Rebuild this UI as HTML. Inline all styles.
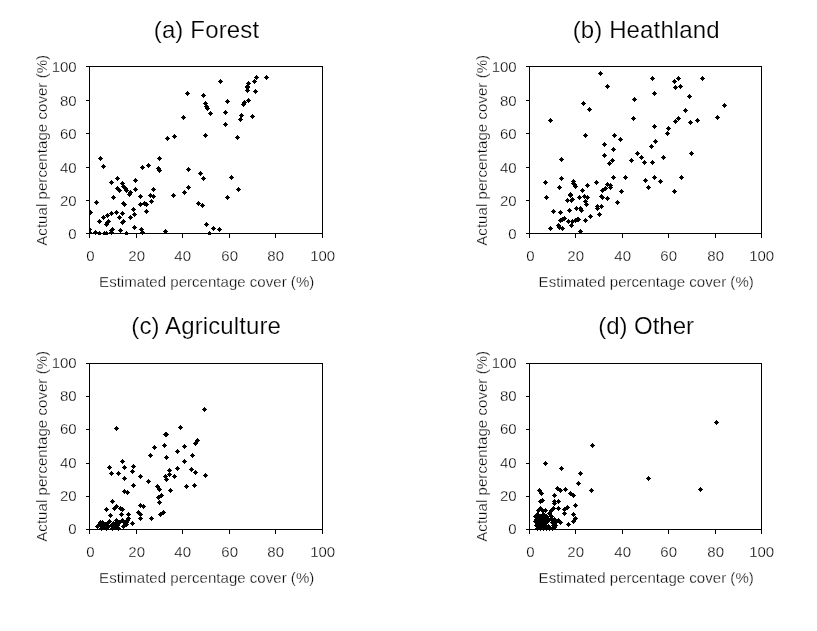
<!DOCTYPE html>
<html><head><meta charset="utf-8"><title>Scatter</title>
<style>
html,body{margin:0;padding:0;background:#fff;}
body{width:817px;height:631px;overflow:hidden;}
svg{display:block;will-change:transform;}
text{font-family:"Liberation Sans",sans-serif;fill:#000;stroke:#fff;stroke-width:0.28px;paint-order:fill stroke;}
text.t{stroke-width:0.2px;}
</style></head><body>
<svg width="817" height="631" viewBox="0 0 817 631"><rect width="817" height="631" fill="#fff"/><g><path d="M89 66h234v1h-234z M89 233h234v1h-234z M89 66h1v168h-1z M322 66h1v168h-1z M86 66h3v1h-3z M89 234h1v4h-1z M86 100h3v1h-3z M136 234h1v4h-1z M86 133h3v1h-3z M182 234h1v4h-1z M86 167h3v1h-3z M229 234h1v4h-1z M86 200h3v1h-3z M275 234h1v4h-1z M86 233h3v1h-3z M322 234h1v4h-1z" fill="#000" shape-rendering="crispEdges"/><clipPath id="c0"><rect x="89" y="66" width="234" height="169"/></clipPath><path clip-path="url(#c0)" d="M185 93h5v1h-5zM186 92h3v3h-3zM187 91h1v5h-1zM201 95h5v1h-5zM202 94h3v3h-3zM203 93h1v5h-1zM203 103h5v1h-5zM204 102h3v3h-3zM205 101h1v5h-1zM181 117h5v1h-5zM182 116h3v3h-3zM183 115h1v5h-1zM172 136h5v1h-5zM173 135h3v3h-3zM174 134h1v5h-1zM165 138h5v1h-5zM166 137h3v3h-3zM167 136h1v5h-1zM203 135h5v1h-5zM204 134h3v3h-3zM205 133h1v5h-1zM218 81h5v1h-5zM219 80h3v3h-3zM220 79h1v5h-1zM254 77h5v1h-5zM255 76h3v3h-3zM256 75h1v5h-1zM264 77h5v1h-5zM265 76h3v3h-3zM266 75h1v5h-1zM252 81h5v1h-5zM253 80h3v3h-3zM254 79h1v5h-1zM246 83h5v1h-5zM247 82h3v3h-3zM248 81h1v5h-1zM245 86h5v1h-5zM246 85h3v3h-3zM247 84h1v5h-1zM245 87h5v1h-5zM246 86h3v3h-3zM247 85h1v5h-1zM245 90h5v1h-5zM246 89h3v3h-3zM247 88h1v5h-1zM253 91h5v1h-5zM254 90h3v3h-3zM255 89h1v5h-1zM225 101h5v1h-5zM226 100h3v3h-3zM227 99h1v5h-1zM246 100h5v1h-5zM247 99h3v3h-3zM248 98h1v5h-1zM242 102h5v1h-5zM243 101h3v3h-3zM244 100h1v5h-1zM241 104h5v1h-5zM242 103h3v3h-3zM243 102h1v5h-1zM204 106h5v1h-5zM205 105h3v3h-3zM206 104h1v5h-1zM205 108h5v1h-5zM206 107h3v3h-3zM207 106h1v5h-1zM208 113h5v1h-5zM209 112h3v3h-3zM210 111h1v5h-1zM223 112h5v1h-5zM224 111h3v3h-3zM225 110h1v5h-1zM239 115h5v1h-5zM240 114h3v3h-3zM241 113h1v5h-1zM238 119h5v1h-5zM239 118h3v3h-3zM240 117h1v5h-1zM250 116h5v1h-5zM251 115h3v3h-3zM252 114h1v5h-1zM223 124h5v1h-5zM224 123h3v3h-3zM225 122h1v5h-1zM235 137h5v1h-5zM236 136h3v3h-3zM237 135h1v5h-1zM98 158h5v1h-5zM99 157h3v3h-3zM100 156h1v5h-1zM101 166h5v1h-5zM102 165h3v3h-3zM103 164h1v5h-1zM157 158h5v1h-5zM158 157h3v3h-3zM159 156h1v5h-1zM140 167h5v1h-5zM141 166h3v3h-3zM142 165h1v5h-1zM146 165h5v1h-5zM147 164h3v3h-3zM148 163h1v5h-1zM156 168h5v1h-5zM157 167h3v3h-3zM158 166h1v5h-1zM157 170h5v1h-5zM158 169h3v3h-3zM159 168h1v5h-1zM186 169h5v1h-5zM187 168h3v3h-3zM188 167h1v5h-1zM198 173h5v1h-5zM199 172h3v3h-3zM200 171h1v5h-1zM201 178h5v1h-5zM202 177h3v3h-3zM203 176h1v5h-1zM115 178h5v1h-5zM116 177h3v3h-3zM117 176h1v5h-1zM109 182h5v1h-5zM110 181h3v3h-3zM111 180h1v5h-1zM133 180h5v1h-5zM134 179h3v3h-3zM135 178h1v5h-1zM120 183h5v1h-5zM121 182h3v3h-3zM122 181h1v5h-1zM121 186h5v1h-5zM122 185h3v3h-3zM123 184h1v5h-1zM115 188h5v1h-5zM116 187h3v3h-3zM117 186h1v5h-1zM117 190h5v1h-5zM118 189h3v3h-3zM119 188h1v5h-1zM124 190h5v1h-5zM125 189h3v3h-3zM126 188h1v5h-1zM133 189h5v1h-5zM134 188h3v3h-3zM135 187h1v5h-1zM151 189h5v1h-5zM152 188h3v3h-3zM153 187h1v5h-1zM128 192h5v1h-5zM129 191h3v3h-3zM130 190h1v5h-1zM127 194h5v1h-5zM128 193h3v3h-3zM129 192h1v5h-1zM186 187h5v1h-5zM187 186h3v3h-3zM188 185h1v5h-1zM182 192h5v1h-5zM183 191h3v3h-3zM184 190h1v5h-1zM171 195h5v1h-5zM172 194h3v3h-3zM173 193h1v5h-1zM148 195h5v1h-5zM149 194h3v3h-3zM150 193h1v5h-1zM151 196h5v1h-5zM152 195h3v3h-3zM153 194h1v5h-1zM138 196h5v1h-5zM139 195h3v3h-3zM140 194h1v5h-1zM111 197h5v1h-5zM112 196h3v3h-3zM113 195h1v5h-1zM149 201h5v1h-5zM150 200h3v3h-3zM151 199h1v5h-1zM94 202h5v1h-5zM95 201h3v3h-3zM96 200h1v5h-1zM121 203h5v1h-5zM122 202h3v3h-3zM123 201h1v5h-1zM122 204h5v1h-5zM123 203h3v3h-3zM124 202h1v5h-1zM138 204h5v1h-5zM139 203h3v3h-3zM140 202h1v5h-1zM142 203h5v1h-5zM143 202h3v3h-3zM144 201h1v5h-1zM144 204h5v1h-5zM145 203h3v3h-3zM146 202h1v5h-1zM196 203h5v1h-5zM197 202h3v3h-3zM198 201h1v5h-1zM200 205h5v1h-5zM201 204h3v3h-3zM202 203h1v5h-1zM131 209h5v1h-5zM132 208h3v3h-3zM133 207h1v5h-1zM144 211h5v1h-5zM145 210h3v3h-3zM146 209h1v5h-1zM88 212h5v1h-5zM89 211h3v3h-3zM90 210h1v5h-1zM114 212h5v1h-5zM115 211h3v3h-3zM116 210h1v5h-1zM109 213h5v1h-5zM110 212h3v3h-3zM111 211h1v5h-1zM120 213h5v1h-5zM121 212h3v3h-3zM122 211h1v5h-1zM132 214h5v1h-5zM133 213h3v3h-3zM134 212h1v5h-1zM105 215h5v1h-5zM106 214h3v3h-3zM107 213h1v5h-1zM101 217h5v1h-5zM102 216h3v3h-3zM103 215h1v5h-1zM117 217h5v1h-5zM118 216h3v3h-3zM119 215h1v5h-1zM128 217h5v1h-5zM129 216h3v3h-3zM130 215h1v5h-1zM97 221h5v1h-5zM98 220h3v3h-3zM99 219h1v5h-1zM106 221h5v1h-5zM107 220h3v3h-3zM108 219h1v5h-1zM121 221h5v1h-5zM122 220h3v3h-3zM123 219h1v5h-1zM120 222h5v1h-5zM121 221h3v3h-3zM122 220h1v5h-1zM104 224h5v1h-5zM105 223h3v3h-3zM106 222h1v5h-1zM105 222h5v1h-5zM106 221h3v3h-3zM107 220h1v5h-1zM132 227h5v1h-5zM133 226h3v3h-3zM134 225h1v5h-1zM204 224h5v1h-5zM205 223h3v3h-3zM206 222h1v5h-1zM110 229h5v1h-5zM111 228h3v3h-3zM112 227h1v5h-1zM118 230h5v1h-5zM119 229h3v3h-3zM120 228h1v5h-1zM139 229h5v1h-5zM140 228h3v3h-3zM141 227h1v5h-1zM140 232h5v1h-5zM141 231h3v3h-3zM142 230h1v5h-1zM163 231h5v1h-5zM164 230h3v3h-3zM165 229h1v5h-1zM87 229h5v1h-5zM88 228h3v3h-3zM89 227h1v5h-1zM87 232h5v1h-5zM88 231h3v3h-3zM89 230h1v5h-1zM93 232h5v1h-5zM94 231h3v3h-3zM95 230h1v5h-1zM97 233h5v1h-5zM98 232h3v3h-3zM99 231h1v5h-1zM102 233h5v1h-5zM103 232h3v3h-3zM104 231h1v5h-1zM104 233h5v1h-5zM105 232h3v3h-3zM106 231h1v5h-1zM109 232h5v1h-5zM110 231h3v3h-3zM111 230h1v5h-1zM109 230h5v1h-5zM110 229h3v3h-3zM111 228h1v5h-1zM124 233h5v1h-5zM125 232h3v3h-3zM126 231h1v5h-1zM123 188h5v1h-5zM124 187h3v3h-3zM125 186h1v5h-1zM229 177h5v1h-5zM230 176h3v3h-3zM231 175h1v5h-1zM236 189h5v1h-5zM237 188h3v3h-3zM238 187h1v5h-1zM225 197h5v1h-5zM226 196h3v3h-3zM227 195h1v5h-1zM211 228h5v1h-5zM212 227h3v3h-3zM213 226h1v5h-1zM217 229h5v1h-5zM218 228h3v3h-3zM219 227h1v5h-1zM207 233h5v1h-5zM208 232h3v3h-3zM209 231h1v5h-1z" fill="#000" shape-rendering="crispEdges"/><text x="76.7" y="71.5" text-anchor="end" font-size="15">100</text><text x="90.3" y="260.5" text-anchor="middle" font-size="15">0</text><text x="76.7" y="105.5" text-anchor="end" font-size="15">80</text><text x="136.7" y="260.5" text-anchor="middle" font-size="15">20</text><text x="76.7" y="138.5" text-anchor="end" font-size="15">60</text><text x="182.7" y="260.5" text-anchor="middle" font-size="15">40</text><text x="76.7" y="172.5" text-anchor="end" font-size="15">40</text><text x="229.7" y="260.5" text-anchor="middle" font-size="15">60</text><text x="76.7" y="205.5" text-anchor="end" font-size="15">20</text><text x="275.7" y="260.5" text-anchor="middle" font-size="15">80</text><text x="76.7" y="238.5" text-anchor="end" font-size="15">0</text><text x="322.7" y="260.5" text-anchor="middle" font-size="15">100</text><text x="206.7" y="286.8" text-anchor="middle" font-size="15" letter-spacing="0.03">Estimated percentage cover (%)</text><text transform="translate(46.6 150.3) rotate(-90)" text-anchor="middle" font-size="15" letter-spacing="0.06">Actual percentage cover (%)</text><text x="206.5" y="37.9" class="t" text-anchor="middle" font-size="24" letter-spacing="0.15">(a) Forest</text></g><g><path d="M529 66h233v1h-233z M529 233h233v1h-233z M529 66h1v168h-1z M761 66h1v168h-1z M526 66h3v1h-3z M529 234h1v4h-1z M526 100h3v1h-3z M575 234h1v4h-1z M526 133h3v1h-3z M622 234h1v4h-1z M526 167h3v1h-3z M668 234h1v4h-1z M526 200h3v1h-3z M715 234h1v4h-1z M526 233h3v1h-3z M761 234h1v4h-1z" fill="#000" shape-rendering="crispEdges"/><clipPath id="c1"><rect x="529" y="66" width="233" height="169"/></clipPath><path clip-path="url(#c1)" d="M598 73h5v1h-5zM599 72h3v3h-3zM600 71h1v5h-1zM605 86h5v1h-5zM606 85h3v3h-3zM607 84h1v5h-1zM632 99h5v1h-5zM633 98h3v3h-3zM634 97h1v5h-1zM581 103h5v1h-5zM582 102h3v3h-3zM583 101h1v5h-1zM587 109h5v1h-5zM588 108h3v3h-3zM589 107h1v5h-1zM548 120h5v1h-5zM549 119h3v3h-3zM550 118h1v5h-1zM631 118h5v1h-5zM632 117h3v3h-3zM633 116h1v5h-1zM583 135h5v1h-5zM584 134h3v3h-3zM585 133h1v5h-1zM612 135h5v1h-5zM613 134h3v3h-3zM614 133h1v5h-1zM618 139h5v1h-5zM619 138h3v3h-3zM620 137h1v5h-1zM602 144h5v1h-5zM603 143h3v3h-3zM604 142h1v5h-1zM611 149h5v1h-5zM612 148h3v3h-3zM613 147h1v5h-1zM650 78h5v1h-5zM651 77h3v3h-3zM652 76h1v5h-1zM676 78h5v1h-5zM677 77h3v3h-3zM678 76h1v5h-1zM672 81h5v1h-5zM673 80h3v3h-3zM674 79h1v5h-1zM700 78h5v1h-5zM701 77h3v3h-3zM702 76h1v5h-1zM673 87h5v1h-5zM674 86h3v3h-3zM675 85h1v5h-1zM678 86h5v1h-5zM679 85h3v3h-3zM680 84h1v5h-1zM652 93h5v1h-5zM653 92h3v3h-3zM654 91h1v5h-1zM687 96h5v1h-5zM688 95h3v3h-3zM689 94h1v5h-1zM722 105h5v1h-5zM723 104h3v3h-3zM724 103h1v5h-1zM683 110h5v1h-5zM684 109h3v3h-3zM685 108h1v5h-1zM715 117h5v1h-5zM716 116h3v3h-3zM717 115h1v5h-1zM676 118h5v1h-5zM677 117h3v3h-3zM678 116h1v5h-1zM673 121h5v1h-5zM674 120h3v3h-3zM675 119h1v5h-1zM688 122h5v1h-5zM689 121h3v3h-3zM690 120h1v5h-1zM695 120h5v1h-5zM696 119h3v3h-3zM697 118h1v5h-1zM652 126h5v1h-5zM653 125h3v3h-3zM654 124h1v5h-1zM666 128h5v1h-5zM667 127h3v3h-3zM668 126h1v5h-1zM665 133h5v1h-5zM666 132h3v3h-3zM667 131h1v5h-1zM653 141h5v1h-5zM654 140h3v3h-3zM655 139h1v5h-1zM649 146h5v1h-5zM650 145h3v3h-3zM651 144h1v5h-1zM602 155h5v1h-5zM603 154h3v3h-3zM604 153h1v5h-1zM559 159h5v1h-5zM560 158h3v3h-3zM561 157h1v5h-1zM610 160h5v1h-5zM611 159h3v3h-3zM612 158h1v5h-1zM607 163h5v1h-5zM608 162h3v3h-3zM609 161h1v5h-1zM635 153h5v1h-5zM636 152h3v3h-3zM637 151h1v5h-1zM639 157h5v1h-5zM640 156h3v3h-3zM641 155h1v5h-1zM629 160h5v1h-5zM630 159h3v3h-3zM631 158h1v5h-1zM642 162h5v1h-5zM643 161h3v3h-3zM644 160h1v5h-1zM611 177h5v1h-5zM612 176h3v3h-3zM613 175h1v5h-1zM623 177h5v1h-5zM624 176h3v3h-3zM625 175h1v5h-1zM559 178h5v1h-5zM560 177h3v3h-3zM561 176h1v5h-1zM543 182h5v1h-5zM544 181h3v3h-3zM545 180h1v5h-1zM571 181h5v1h-5zM572 180h3v3h-3zM573 179h1v5h-1zM572 184h5v1h-5zM573 183h3v3h-3zM574 182h1v5h-1zM573 186h5v1h-5zM574 185h3v3h-3zM575 184h1v5h-1zM594 182h5v1h-5zM595 181h3v3h-3zM596 180h1v5h-1zM585 185h5v1h-5zM586 184h3v3h-3zM587 183h1v5h-1zM605 184h5v1h-5zM606 183h3v3h-3zM607 182h1v5h-1zM608 185h5v1h-5zM609 184h3v3h-3zM610 183h1v5h-1zM608 187h5v1h-5zM609 186h3v3h-3zM610 185h1v5h-1zM557 187h5v1h-5zM558 186h3v3h-3zM559 185h1v5h-1zM603 188h5v1h-5zM604 187h3v3h-3zM605 186h1v5h-1zM600 190h5v1h-5zM601 189h3v3h-3zM602 188h1v5h-1zM580 190h5v1h-5zM581 189h3v3h-3zM582 188h1v5h-1zM619 191h5v1h-5zM620 190h3v3h-3zM621 189h1v5h-1zM568 194h5v1h-5zM569 193h3v3h-3zM570 192h1v5h-1zM544 197h5v1h-5zM545 196h3v3h-3zM546 195h1v5h-1zM577 197h5v1h-5zM578 196h3v3h-3zM579 195h1v5h-1zM582 196h5v1h-5zM583 195h3v3h-3zM584 194h1v5h-1zM585 197h5v1h-5zM586 196h3v3h-3zM587 195h1v5h-1zM599 196h5v1h-5zM600 195h3v3h-3zM601 194h1v5h-1zM600 197h5v1h-5zM601 196h3v3h-3zM602 195h1v5h-1zM605 198h5v1h-5zM606 197h3v3h-3zM607 196h1v5h-1zM565 200h5v1h-5zM566 199h3v3h-3zM567 198h1v5h-1zM569 200h5v1h-5zM570 199h3v3h-3zM571 198h1v5h-1zM583 201h5v1h-5zM584 200h3v3h-3zM585 199h1v5h-1zM615 202h5v1h-5zM616 201h3v3h-3zM617 200h1v5h-1zM584 204h5v1h-5zM585 203h3v3h-3zM586 202h1v5h-1zM595 206h5v1h-5zM596 205h3v3h-3zM597 204h1v5h-1zM599 206h5v1h-5zM600 205h3v3h-3zM601 204h1v5h-1zM595 208h5v1h-5zM596 207h3v3h-3zM597 206h1v5h-1zM574 208h5v1h-5zM575 207h3v3h-3zM576 206h1v5h-1zM578 208h5v1h-5zM579 207h3v3h-3zM580 206h1v5h-1zM579 210h5v1h-5zM580 209h3v3h-3zM581 208h1v5h-1zM567 210h5v1h-5zM568 209h3v3h-3zM569 208h1v5h-1zM551 211h5v1h-5zM552 210h3v3h-3zM553 209h1v5h-1zM558 212h5v1h-5zM559 211h3v3h-3zM560 210h1v5h-1zM597 214h5v1h-5zM598 213h3v3h-3zM599 212h1v5h-1zM588 216h5v1h-5zM589 215h3v3h-3zM590 214h1v5h-1zM562 218h5v1h-5zM563 217h3v3h-3zM564 216h1v5h-1zM558 220h5v1h-5zM559 219h3v3h-3zM560 218h1v5h-1zM576 219h5v1h-5zM577 218h3v3h-3zM578 217h1v5h-1zM573 220h5v1h-5zM574 219h3v3h-3zM575 218h1v5h-1zM570 221h5v1h-5zM571 220h3v3h-3zM572 219h1v5h-1zM566 221h5v1h-5zM567 220h3v3h-3zM568 219h1v5h-1zM583 220h5v1h-5zM584 219h3v3h-3zM585 218h1v5h-1zM569 225h5v1h-5zM570 224h3v3h-3zM571 223h1v5h-1zM556 225h5v1h-5zM557 224h3v3h-3zM558 223h1v5h-1zM557 227h5v1h-5zM558 226h3v3h-3zM559 225h1v5h-1zM560 228h5v1h-5zM561 227h3v3h-3zM562 226h1v5h-1zM548 228h5v1h-5zM549 227h3v3h-3zM550 226h1v5h-1zM578 231h5v1h-5zM579 230h3v3h-3zM580 229h1v5h-1zM643 180h5v1h-5zM644 179h3v3h-3zM645 178h1v5h-1zM568 195h5v1h-5zM569 194h3v3h-3zM570 193h1v5h-1zM570 199h5v1h-5zM571 198h3v3h-3zM572 197h1v5h-1zM571 183h5v1h-5zM572 182h3v3h-3zM573 181h1v5h-1zM560 219h5v1h-5zM561 218h3v3h-3zM562 217h1v5h-1zM575 219h5v1h-5zM576 218h3v3h-3zM577 217h1v5h-1zM689 153h5v1h-5zM690 152h3v3h-3zM691 151h1v5h-1zM661 157h5v1h-5zM662 156h3v3h-3zM663 155h1v5h-1zM650 162h5v1h-5zM651 161h3v3h-3zM652 160h1v5h-1zM652 177h5v1h-5zM653 176h3v3h-3zM654 175h1v5h-1zM679 177h5v1h-5zM680 176h3v3h-3zM681 175h1v5h-1zM658 181h5v1h-5zM659 180h3v3h-3zM660 179h1v5h-1zM646 187h5v1h-5zM647 186h3v3h-3zM648 185h1v5h-1zM672 191h5v1h-5zM673 190h3v3h-3zM674 189h1v5h-1z" fill="#000" shape-rendering="crispEdges"/><text x="516.7" y="71.5" text-anchor="end" font-size="15">100</text><text x="530.3" y="260.5" text-anchor="middle" font-size="15">0</text><text x="516.7" y="105.5" text-anchor="end" font-size="15">80</text><text x="575.7" y="260.5" text-anchor="middle" font-size="15">20</text><text x="516.7" y="138.5" text-anchor="end" font-size="15">60</text><text x="622.7" y="260.5" text-anchor="middle" font-size="15">40</text><text x="516.7" y="172.5" text-anchor="end" font-size="15">40</text><text x="668.7" y="260.5" text-anchor="middle" font-size="15">60</text><text x="516.7" y="205.5" text-anchor="end" font-size="15">20</text><text x="715.7" y="260.5" text-anchor="middle" font-size="15">80</text><text x="516.7" y="238.5" text-anchor="end" font-size="15">0</text><text x="761.7" y="260.5" text-anchor="middle" font-size="15">100</text><text x="646.2" y="286.8" text-anchor="middle" font-size="15" letter-spacing="0.03">Estimated percentage cover (%)</text><text transform="translate(486.6 150.3) rotate(-90)" text-anchor="middle" font-size="15" letter-spacing="0.06">Actual percentage cover (%)</text><text x="646.2" y="37.9" class="t" text-anchor="middle" font-size="24" letter-spacing="0.13">(b) Heathland</text></g><g><path d="M89 363h234v1h-234z M89 529h234v1h-234z M89 363h1v167h-1z M322 363h1v167h-1z M86 363h3v1h-3z M89 530h1v4h-1z M86 396h3v1h-3z M136 530h1v4h-1z M86 429h3v1h-3z M182 530h1v4h-1z M86 463h3v1h-3z M229 530h1v4h-1z M86 496h3v1h-3z M275 530h1v4h-1z M86 529h3v1h-3z M322 530h1v4h-1z" fill="#000" shape-rendering="crispEdges"/><clipPath id="c2"><rect x="89" y="363" width="234" height="168"/></clipPath><path clip-path="url(#c2)" d="M114 428h5v1h-5zM115 427h3v3h-3zM116 426h1v5h-1zM178 427h5v1h-5zM179 426h3v3h-3zM180 425h1v5h-1zM163 434h5v1h-5zM164 433h3v3h-3zM165 432h1v5h-1zM164 434h5v1h-5zM165 433h3v3h-3zM166 432h1v5h-1zM202 409h5v1h-5zM203 408h3v3h-3zM204 407h1v5h-1zM195 440h5v1h-5zM196 439h3v3h-3zM197 438h1v5h-1zM193 443h5v1h-5zM194 442h3v3h-3zM195 441h1v5h-1zM152 447h5v1h-5zM153 446h3v3h-3zM154 445h1v5h-1zM162 445h5v1h-5zM163 444h3v3h-3zM164 443h1v5h-1zM182 446h5v1h-5zM183 445h3v3h-3zM184 444h1v5h-1zM175 451h5v1h-5zM176 450h3v3h-3zM177 449h1v5h-1zM148 455h5v1h-5zM149 454h3v3h-3zM150 453h1v5h-1zM164 457h5v1h-5zM165 456h3v3h-3zM166 455h1v5h-1zM190 455h5v1h-5zM191 454h3v3h-3zM192 453h1v5h-1zM182 461h5v1h-5zM183 460h3v3h-3zM184 459h1v5h-1zM120 461h5v1h-5zM121 460h3v3h-3zM122 459h1v5h-1zM107 467h5v1h-5zM108 466h3v3h-3zM109 465h1v5h-1zM122 467h5v1h-5zM123 466h3v3h-3zM124 465h1v5h-1zM131 466h5v1h-5zM132 465h3v3h-3zM133 464h1v5h-1zM130 471h5v1h-5zM131 470h3v3h-3zM132 469h1v5h-1zM109 473h5v1h-5zM110 472h3v3h-3zM111 471h1v5h-1zM116 473h5v1h-5zM117 472h3v3h-3zM118 471h1v5h-1zM175 468h5v1h-5zM176 467h3v3h-3zM177 466h1v5h-1zM167 470h5v1h-5zM168 469h3v3h-3zM169 468h1v5h-1zM189 469h5v1h-5zM190 468h3v3h-3zM191 467h1v5h-1zM193 472h5v1h-5zM194 471h3v3h-3zM195 470h1v5h-1zM167 474h5v1h-5zM168 473h3v3h-3zM169 472h1v5h-1zM163 476h5v1h-5zM164 475h3v3h-3zM165 474h1v5h-1zM172 476h5v1h-5zM173 475h3v3h-3zM174 474h1v5h-1zM138 476h5v1h-5zM139 475h3v3h-3zM140 474h1v5h-1zM122 478h5v1h-5zM123 477h3v3h-3zM124 476h1v5h-1zM164 479h5v1h-5zM165 478h3v3h-3zM166 477h1v5h-1zM146 481h5v1h-5zM147 480h3v3h-3zM148 479h1v5h-1zM203 475h5v1h-5zM204 474h3v3h-3zM205 473h1v5h-1zM131 485h5v1h-5zM132 484h3v3h-3zM133 483h1v5h-1zM155 486h5v1h-5zM156 485h3v3h-3zM157 484h1v5h-1zM157 489h5v1h-5zM158 488h3v3h-3zM159 487h1v5h-1zM184 486h5v1h-5zM185 485h3v3h-3zM186 484h1v5h-1zM192 485h5v1h-5zM193 484h3v3h-3zM194 483h1v5h-1zM168 490h5v1h-5zM169 489h3v3h-3zM170 488h1v5h-1zM122 491h5v1h-5zM123 490h3v3h-3zM124 489h1v5h-1zM125 492h5v1h-5zM126 491h3v3h-3zM127 490h1v5h-1zM159 495h5v1h-5zM160 494h3v3h-3zM161 493h1v5h-1zM156 497h5v1h-5zM157 496h3v3h-3zM158 495h1v5h-1zM157 502h5v1h-5zM158 501h3v3h-3zM159 500h1v5h-1zM110 501h5v1h-5zM111 500h3v3h-3zM112 499h1v5h-1zM138 505h5v1h-5zM139 504h3v3h-3zM140 503h1v5h-1zM141 506h5v1h-5zM142 505h3v3h-3zM143 504h1v5h-1zM114 506h5v1h-5zM115 505h3v3h-3zM116 504h1v5h-1zM112 508h5v1h-5zM113 507h3v3h-3zM114 506h1v5h-1zM104 509h5v1h-5zM105 508h3v3h-3zM106 507h1v5h-1zM118 508h5v1h-5zM119 507h3v3h-3zM120 506h1v5h-1zM120 509h5v1h-5zM121 508h3v3h-3zM122 507h1v5h-1zM136 512h5v1h-5zM137 511h3v3h-3zM138 510h1v5h-1zM138 514h5v1h-5zM139 513h3v3h-3zM140 512h1v5h-1zM126 514h5v1h-5zM127 513h3v3h-3zM128 512h1v5h-1zM119 514h5v1h-5zM120 513h3v3h-3zM121 512h1v5h-1zM108 515h5v1h-5zM109 514h3v3h-3zM110 513h1v5h-1zM161 512h5v1h-5zM162 511h3v3h-3zM163 510h1v5h-1zM158 514h5v1h-5zM159 513h3v3h-3zM160 512h1v5h-1zM138 518h5v1h-5zM139 517h3v3h-3zM140 516h1v5h-1zM149 518h5v1h-5zM150 517h3v3h-3zM151 516h1v5h-1zM130 523h5v1h-5zM131 522h3v3h-3zM132 521h1v5h-1zM95 526h5v1h-5zM96 525h3v3h-3zM97 524h1v5h-1zM98 522h5v1h-5zM99 521h3v3h-3zM100 520h1v5h-1zM100 522h5v1h-5zM101 521h3v3h-3zM102 520h1v5h-1zM98 525h5v1h-5zM99 524h3v3h-3zM100 523h1v5h-1zM101 525h5v1h-5zM102 524h3v3h-3zM103 523h1v5h-1zM99 528h5v1h-5zM100 527h3v3h-3zM101 526h1v5h-1zM104 528h5v1h-5zM105 527h3v3h-3zM106 526h1v5h-1zM110 528h5v1h-5zM111 527h3v3h-3zM112 526h1v5h-1zM116 528h5v1h-5zM117 527h3v3h-3zM118 526h1v5h-1zM103 524h5v1h-5zM104 523h3v3h-3zM105 522h1v5h-1zM106 526h5v1h-5zM107 525h3v3h-3zM108 524h1v5h-1zM107 521h5v1h-5zM108 520h3v3h-3zM109 519h1v5h-1zM105 523h5v1h-5zM106 522h3v3h-3zM107 521h1v5h-1zM109 525h5v1h-5zM110 524h3v3h-3zM111 523h1v5h-1zM111 523h5v1h-5zM112 522h3v3h-3zM113 521h1v5h-1zM114 520h5v1h-5zM115 519h3v3h-3zM116 518h1v5h-1zM113 523h5v1h-5zM114 522h3v3h-3zM115 521h1v5h-1zM115 525h5v1h-5zM116 524h3v3h-3zM117 523h1v5h-1zM117 522h5v1h-5zM118 521h3v3h-3zM119 520h1v5h-1zM120 520h5v1h-5zM121 519h3v3h-3zM122 518h1v5h-1zM122 522h5v1h-5zM123 521h3v3h-3zM124 520h1v5h-1zM121 526h5v1h-5zM122 525h3v3h-3zM123 524h1v5h-1zM124 524h5v1h-5zM125 523h3v3h-3zM126 522h1v5h-1zM125 520h5v1h-5zM126 519h3v3h-3zM127 518h1v5h-1zM126 518h5v1h-5zM127 517h3v3h-3zM128 516h1v5h-1zM124 522h5v1h-5zM125 521h3v3h-3zM126 520h1v5h-1zM112 527h5v1h-5zM113 526h3v3h-3zM114 525h1v5h-1zM102 527h5v1h-5zM103 526h3v3h-3zM104 525h1v5h-1zM97 524h5v1h-5zM98 523h3v3h-3zM99 522h1v5h-1z" fill="#000" shape-rendering="crispEdges"/><text x="76.7" y="368.0" text-anchor="end" font-size="15">100</text><text x="90.3" y="556.5" text-anchor="middle" font-size="15">0</text><text x="76.7" y="401.0" text-anchor="end" font-size="15">80</text><text x="136.7" y="556.5" text-anchor="middle" font-size="15">20</text><text x="76.7" y="434.0" text-anchor="end" font-size="15">60</text><text x="182.7" y="556.5" text-anchor="middle" font-size="15">40</text><text x="76.7" y="468.0" text-anchor="end" font-size="15">40</text><text x="229.7" y="556.5" text-anchor="middle" font-size="15">60</text><text x="76.7" y="501.0" text-anchor="end" font-size="15">20</text><text x="275.7" y="556.5" text-anchor="middle" font-size="15">80</text><text x="76.7" y="534.0" text-anchor="end" font-size="15">0</text><text x="322.7" y="556.5" text-anchor="middle" font-size="15">100</text><text x="206.7" y="582.8" text-anchor="middle" font-size="15" letter-spacing="0.03">Estimated percentage cover (%)</text><text transform="translate(46.6 446.3) rotate(-90)" text-anchor="middle" font-size="15" letter-spacing="0.06">Actual percentage cover (%)</text><text x="206.2" y="333.6" class="t" text-anchor="middle" font-size="24" letter-spacing="0.11">(c) Agriculture</text></g><g><path d="M529 363h233v1h-233z M529 529h233v1h-233z M529 363h1v167h-1z M761 363h1v167h-1z M526 363h3v1h-3z M529 530h1v4h-1z M526 396h3v1h-3z M575 530h1v4h-1z M526 429h3v1h-3z M622 530h1v4h-1z M526 463h3v1h-3z M668 530h1v4h-1z M526 496h3v1h-3z M715 530h1v4h-1z M526 529h3v1h-3z M761 530h1v4h-1z" fill="#000" shape-rendering="crispEdges"/><clipPath id="c3"><rect x="529" y="363" width="233" height="168"/></clipPath><path clip-path="url(#c3)" d="M590 445h5v1h-5zM591 444h3v3h-3zM592 443h1v5h-1zM714 422h5v1h-5zM715 421h3v3h-3zM716 420h1v5h-1zM646 478h5v1h-5zM647 477h3v3h-3zM648 476h1v5h-1zM698 489h5v1h-5zM699 488h3v3h-3zM700 487h1v5h-1zM543 463h5v1h-5zM544 462h3v3h-3zM545 461h1v5h-1zM559 468h5v1h-5zM560 467h3v3h-3zM561 466h1v5h-1zM578 473h5v1h-5zM579 472h3v3h-3zM580 471h1v5h-1zM576 483h5v1h-5zM577 482h3v3h-3zM578 481h1v5h-1zM589 490h5v1h-5zM590 489h3v3h-3zM591 488h1v5h-1zM555 488h5v1h-5zM556 487h3v3h-3zM557 486h1v5h-1zM558 490h5v1h-5zM559 489h3v3h-3zM560 488h1v5h-1zM563 489h5v1h-5zM564 488h3v3h-3zM565 487h1v5h-1zM537 490h5v1h-5zM538 489h3v3h-3zM539 488h1v5h-1zM539 493h5v1h-5zM540 492h3v3h-3zM541 491h1v5h-1zM568 493h5v1h-5zM569 492h3v3h-3zM570 491h1v5h-1zM571 495h5v1h-5zM572 494h3v3h-3zM573 493h1v5h-1zM552 495h5v1h-5zM553 494h3v3h-3zM554 493h1v5h-1zM540 500h5v1h-5zM541 499h3v3h-3zM542 498h1v5h-1zM538 501h5v1h-5zM539 500h3v3h-3zM540 499h1v5h-1zM552 501h5v1h-5zM553 500h3v3h-3zM554 499h1v5h-1zM556 501h5v1h-5zM557 500h3v3h-3zM558 499h1v5h-1zM552 503h5v1h-5zM553 502h3v3h-3zM554 501h1v5h-1zM573 505h5v1h-5zM574 504h3v3h-3zM575 503h1v5h-1zM565 507h5v1h-5zM566 506h3v3h-3zM567 505h1v5h-1zM562 509h5v1h-5zM563 508h3v3h-3zM564 507h1v5h-1zM556 508h5v1h-5zM557 507h3v3h-3zM558 506h1v5h-1zM551 508h5v1h-5zM552 507h3v3h-3zM553 506h1v5h-1zM549 510h5v1h-5zM550 509h3v3h-3zM551 508h1v5h-1zM538 508h5v1h-5zM539 507h3v3h-3zM540 506h1v5h-1zM536 510h5v1h-5zM537 509h3v3h-3zM538 508h1v5h-1zM540 510h5v1h-5zM541 509h3v3h-3zM542 508h1v5h-1zM543 510h5v1h-5zM544 509h3v3h-3zM545 508h1v5h-1zM562 513h5v1h-5zM563 512h3v3h-3zM564 511h1v5h-1zM571 514h5v1h-5zM572 513h3v3h-3zM573 512h1v5h-1zM573 518h5v1h-5zM574 517h3v3h-3zM575 516h1v5h-1zM571 521h5v1h-5zM572 520h3v3h-3zM573 519h1v5h-1zM556 520h5v1h-5zM557 519h3v3h-3zM558 518h1v5h-1zM558 522h5v1h-5zM559 521h3v3h-3zM560 520h1v5h-1zM566 524h5v1h-5zM567 523h3v3h-3zM568 522h1v5h-1zM533 516h5v1h-5zM534 515h3v3h-3zM535 514h1v5h-1zM535 514h5v1h-5zM536 513h3v3h-3zM537 512h1v5h-1zM538 516h5v1h-5zM539 515h3v3h-3zM540 514h1v5h-1zM541 514h5v1h-5zM542 513h3v3h-3zM543 512h1v5h-1zM544 516h5v1h-5zM545 515h3v3h-3zM546 514h1v5h-1zM547 513h5v1h-5zM548 512h3v3h-3zM549 511h1v5h-1zM549 516h5v1h-5zM550 515h3v3h-3zM551 514h1v5h-1zM534 519h5v1h-5zM535 518h3v3h-3zM536 517h1v5h-1zM537 519h5v1h-5zM538 518h3v3h-3zM539 517h1v5h-1zM540 519h5v1h-5zM541 518h3v3h-3zM542 517h1v5h-1zM543 519h5v1h-5zM544 518h3v3h-3zM545 517h1v5h-1zM546 519h5v1h-5zM547 518h3v3h-3zM548 517h1v5h-1zM549 519h5v1h-5zM550 518h3v3h-3zM551 517h1v5h-1zM552 519h5v1h-5zM553 518h3v3h-3zM554 517h1v5h-1zM534 522h5v1h-5zM535 521h3v3h-3zM536 520h1v5h-1zM537 522h5v1h-5zM538 521h3v3h-3zM539 520h1v5h-1zM540 522h5v1h-5zM541 521h3v3h-3zM542 520h1v5h-1zM543 522h5v1h-5zM544 521h3v3h-3zM545 520h1v5h-1zM550 522h5v1h-5zM551 521h3v3h-3zM552 520h1v5h-1zM553 522h5v1h-5zM554 521h3v3h-3zM555 520h1v5h-1zM534 525h5v1h-5zM535 524h3v3h-3zM536 523h1v5h-1zM537 525h5v1h-5zM538 524h3v3h-3zM539 523h1v5h-1zM540 525h5v1h-5zM541 524h3v3h-3zM542 523h1v5h-1zM543 525h5v1h-5zM544 524h3v3h-3zM545 523h1v5h-1zM546 526h5v1h-5zM547 525h3v3h-3zM548 524h1v5h-1zM551 525h5v1h-5zM552 524h3v3h-3zM553 523h1v5h-1zM535 528h5v1h-5zM536 527h3v3h-3zM537 526h1v5h-1zM538 528h5v1h-5zM539 527h3v3h-3zM540 526h1v5h-1zM541 528h5v1h-5zM542 527h3v3h-3zM543 526h1v5h-1zM544 528h5v1h-5zM545 527h3v3h-3zM546 526h1v5h-1zM547 528h5v1h-5zM548 527h3v3h-3zM549 526h1v5h-1zM550 528h5v1h-5zM551 527h3v3h-3zM552 526h1v5h-1zM552 527h5v1h-5zM553 526h3v3h-3zM554 525h1v5h-1zM553 525h5v1h-5zM554 524h3v3h-3zM555 523h1v5h-1zM551 521h5v1h-5zM552 520h3v3h-3zM553 519h1v5h-1zM536 517h5v1h-5zM537 516h3v3h-3zM538 515h1v5h-1zM539 521h5v1h-5zM540 520h3v3h-3zM541 519h1v5h-1zM542 517h5v1h-5zM543 516h3v3h-3zM544 515h1v5h-1zM545 521h5v1h-5zM546 520h3v3h-3zM547 519h1v5h-1zM533 521h5v1h-5zM534 520h3v3h-3zM535 519h1v5h-1z" fill="#000" shape-rendering="crispEdges"/><text x="516.7" y="368.0" text-anchor="end" font-size="15">100</text><text x="530.3" y="556.5" text-anchor="middle" font-size="15">0</text><text x="516.7" y="401.0" text-anchor="end" font-size="15">80</text><text x="575.7" y="556.5" text-anchor="middle" font-size="15">20</text><text x="516.7" y="434.0" text-anchor="end" font-size="15">60</text><text x="622.7" y="556.5" text-anchor="middle" font-size="15">40</text><text x="516.7" y="468.0" text-anchor="end" font-size="15">40</text><text x="668.7" y="556.5" text-anchor="middle" font-size="15">60</text><text x="516.7" y="501.0" text-anchor="end" font-size="15">20</text><text x="715.7" y="556.5" text-anchor="middle" font-size="15">80</text><text x="516.7" y="534.0" text-anchor="end" font-size="15">0</text><text x="761.7" y="556.5" text-anchor="middle" font-size="15">100</text><text x="646.2" y="582.8" text-anchor="middle" font-size="15" letter-spacing="0.03">Estimated percentage cover (%)</text><text transform="translate(486.6 446.3) rotate(-90)" text-anchor="middle" font-size="15" letter-spacing="0.06">Actual percentage cover (%)</text><text x="646.1" y="333.6" class="t" text-anchor="middle" font-size="24" letter-spacing="-0.04">(d) Other</text></g></svg>
</body></html>
